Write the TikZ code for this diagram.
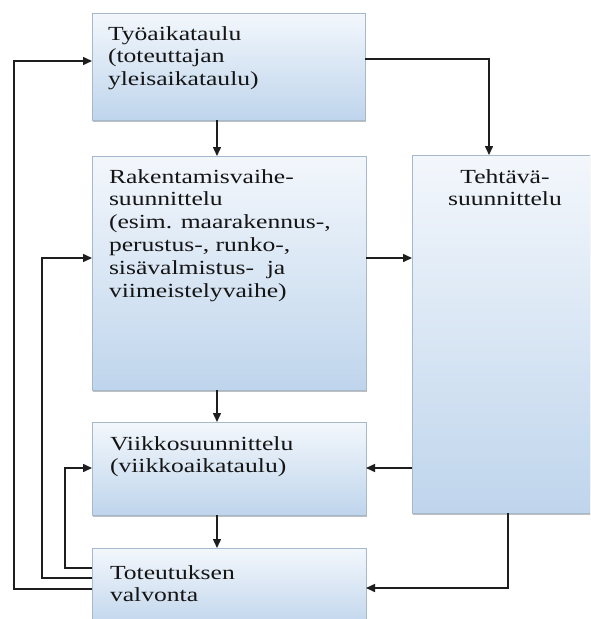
\documentclass[tikz,border=0pt]{standalone}
\usepackage{fontspec}
\setmainfont{Liberation Serif}[FakeStretch=1.28]
\usetikzlibrary{arrows.meta,shadows}
\definecolor{linec}{HTML}{1E1E1E}
\definecolor{txt}{HTML}{151515}
\definecolor{boxline}{HTML}{A5B8CC}
\definecolor{boxtop}{HTML}{F3F7FC}
\definecolor{boxbot}{HTML}{BFD5EC}
\begin{document}
\begin{tikzpicture}[x=1pt,y=-1pt,
  box/.style={draw=boxline, line width=0.6pt, top color=boxtop, bottom color=boxbot,
    drop shadow={shadow xshift=0.8pt, shadow yshift=-2pt, fill=black!55, opacity=0.45},
    inner sep=0pt, outer sep=0pt, anchor=north west},
  lbl/.style={inner sep=0pt, outer sep=0pt, anchor=base west, text=txt,
    font=\fontsize{20}{22.8}\selectfont},
  arr/.style={draw=linec, line width=1.5pt, -{Triangle[length=9pt,width=8pt]}}]
\clip (0,0) rectangle (590,619);
\fill[white] (0,0) rectangle (590,619);

% boxes
\node[box, minimum width=273pt, minimum height=107pt] (b1) at (92,13) {};
\node[box, minimum width=274pt, minimum height=234pt] (b2) at (92,156) {};
\node[box, minimum width=190pt, minimum height=358pt] (teh) at (412,155) {};
\node[box, minimum width=274pt, minimum height=93pt] (b3) at (92,422) {};
\node[box, minimum width=274pt, minimum height=80pt] (b4) at (92,548) {};

% texts
\node[lbl] (t1) at (108,40) {\vtop{\hbox{Työaikataulu}\hbox{(toteuttajan}\hbox{yleisaikataulu)}}};
\node[lbl] (t2) at (109,183) {\vtop{\hbox{Rakentamisvaihe-}\hbox{suunnittelu}\hbox{(esim. maarakennus-,}\hbox{perustus-, runko-,}\hbox{sisävalmistus-\ \ ja}\hbox{viimeistelyvaihe)}}};
\node[lbl, anchor=base] (t5) at (505,183) {\vtop{\halign{\hfil#\hfil\cr Tehtävä-\cr suunnittelu\cr}}};
\node[lbl] (t3) at (110,450) {\vtop{\hbox{Viikkosuunnittelu}\hbox{(viikkoaikataulu)}}};
\node[lbl] (t4) at (110,579) {\vtop{\hbox{Toteutuksen}\hbox{valvonta}}};

% helper coordinates
\coordinate (ax) at (217,0);
\coordinate (rx1) at (489,0);
\coordinate (rx2) at (508,0);
\coordinate (ry0) at (0,61);
\coordinate (ry1) at (0,59);
\coordinate (ry2) at (0,258);
\coordinate (ry3) at (0,468);
\coordinate (ry4) at (0,588);
\coordinate (f1) at (14,0);
\coordinate (f2) at (42,0);
\coordinate (f3) at (65,0);
\coordinate (fy1) at (0,589);
\coordinate (fy2) at (0,578);
\coordinate (fy3) at (0,568);

% connectors
\draw[arr] (b1.east |- ry1) -| (teh.north -| rx1);
\draw[arr] (b1.south -| ax) -- (b2.north -| ax);
\draw[arr] (b2.south -| ax) -- (b3.north -| ax);
\draw[arr] (b3.south -| ax) -- (b4.north -| ax);
\draw[arr] (b2.east |- ry2) -- (teh.west |- ry2);
\draw[arr] (teh.west |- ry3) -- (b3.east |- ry3);
\draw[arr] (teh.south -| rx2) |- (b4.east |- ry4);
\draw[arr] (b4.west |- fy1) -| (f1 |- ry0) -- (b1.west |- ry0);
\draw[arr] (b4.west |- fy2) -| (f2 |- ry2) -- (b2.west |- ry2);
\draw[arr] (b4.west |- fy3) -| (f3 |- ry3) -- (b3.west |- ry3);
\end{tikzpicture}
\end{document}
